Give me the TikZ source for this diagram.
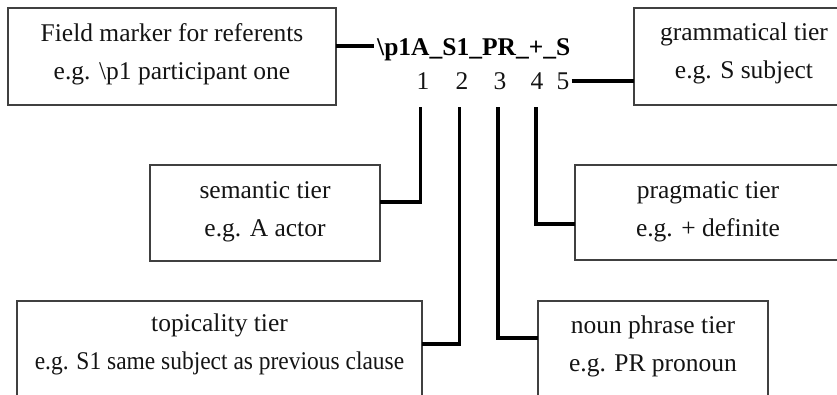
\documentclass[tikz,border=0pt]{standalone}
\usepackage{graphicx}
\usepackage{fontspec}
\setmainfont{Liberation Serif}
\begin{document}
\begin{tikzpicture}[x=1pt,y=-1pt,
  box/.style={draw=black!75, line width=1.4pt, fill=white, inner sep=0pt, outer sep=0pt},
  txt/.style={inner sep=0pt, align=center, anchor=north, font=\fontsize{25.5}{38}\selectfont, text=black!92},
  num/.style={inner sep=0pt, anchor=base, font=\fontsize{25.5}{30}\selectfont, text=black!92},
  conn/.style={line width=3.6pt, black, line join=miter}]
\clip (0,0) rectangle (837,394);
\fill[white] (0,0) rectangle (837,394);
% boxes
\node[box, minimum width=328pt, minimum height=97pt] (box1) at (172,56.5) {};
\node[box, minimum width=220pt, minimum height=97pt] (gram) at (744,56.5) {};
\node[box, minimum width=230pt, minimum height=96pt] (sem) at (265,213) {};
\node[box, minimum width=266pt, minimum height=95pt] (prag) at (708,212.5) {};
\node[box, minimum width=405pt, minimum height=99pt] (top) at (219.5,350.5) {};
\node[box, minimum width=230pt, minimum height=99pt] (np) at (653,350.5) {};
% texts
\node[txt] (t1) at (172,23) {Field marker for referents\\e.g. \textbackslash p1 participant one};
\node[txt] (t2) at (744,23) {grammatical tier\\e.g. S subject};
\node[txt] (t3) at (265,181) {semantic tier\\e.g. A actor};
\node[txt] (t4) at (708,181) {pragmatic tier\\e.g. + definite};
\node[txt] (t5) at (219.5,314) {topicality tier\\\scalebox{0.92}[1]{e.g. S1 same subject as previous clause}};
\node[txt] (t6) at (653,316) {noun phrase tier\\e.g. PR pronoun};
% code and numbers
\node[inner sep=0pt, anchor=base west, font=\fontsize{25.5}{30}\selectfont\bfseries, text=black] (code) at (377,55) {\textbackslash p1A\_S1\_PR\_+\_S};
\node[num] (n1) at (423,89) {1};
\node[num] (n2) at (462,89) {2};
\node[num] (n3) at (500,89) {3};
\node[num] (n4) at (537,89) {4};
\node[num] (n5) at (563,89) {5};
% connectors
\draw[conn] ([yshift=10.5pt]box1.east) -- ([yshift=10.5pt,xshift=-3pt]box1.east -| code.west);
\draw[conn] ([xshift=2pt]n5.east) -- (n5.east -| gram.west);
\draw[conn] ([xshift=-2.5pt,yshift=-18pt]n1.south) |- ([yshift=11pt]sem.east);
\draw[conn] ([xshift=-2.5pt,yshift=-18pt]n2.south) |- ([yshift=6.5pt]top.east);
\draw[conn] ([xshift=-2pt,yshift=-18pt]n3.south) |- ([yshift=12.5pt]np.west);
\draw[conn] ([xshift=-1pt,yshift=-18pt]n4.south) |- ([yshift=-11.5pt]prag.west);
\end{tikzpicture}
\end{document}
